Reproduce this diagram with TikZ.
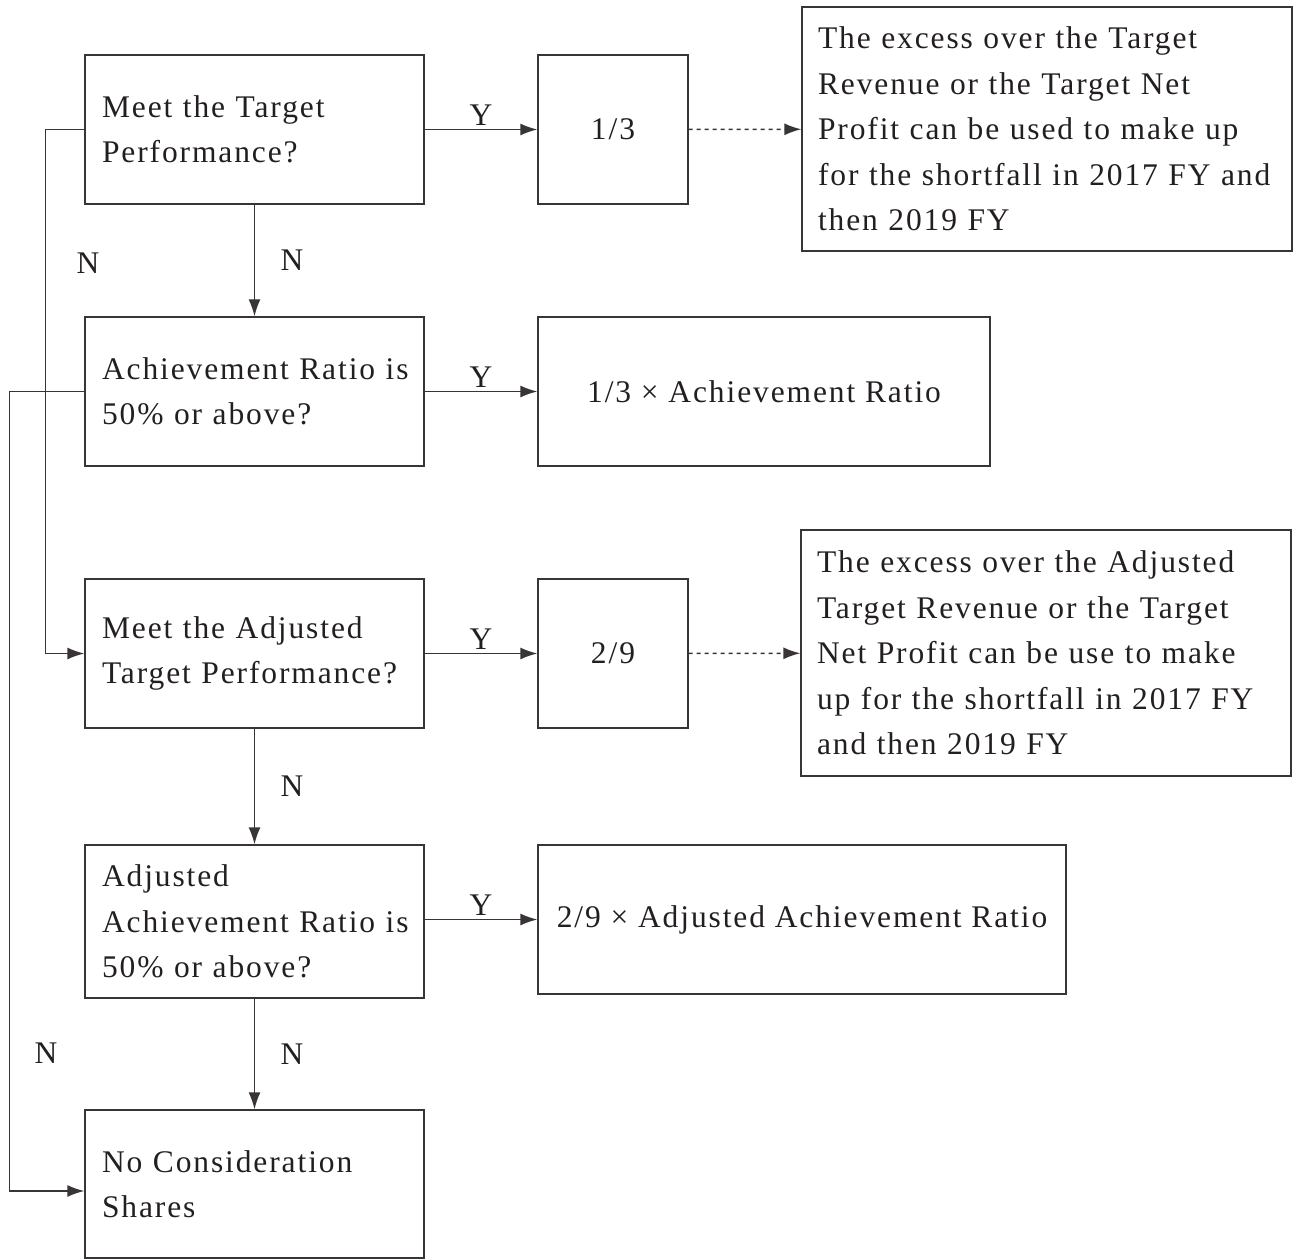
\documentclass[tikz,border=0pt]{standalone}
\usepackage{fontspec}
\newfontfamily\boxfont[LetterSpace=6]{Liberation Serif}
\usetikzlibrary{arrows.meta}
\definecolor{ink}{RGB}{35,31,32}
\begin{document}
\begin{tikzpicture}
            [x=1pt, y=-1pt, line width=1.4pt, draw=ink!90, text=ink,
             font=\boxfont\fontsize{31.5}{45.5}\selectfont,
             qbox/.style={draw, rectangle, minimum width=339pt, minimum height=149pt, text width=305pt, align=left, inner xsep=17pt},
             vbox/.style={draw, rectangle, minimum height=149pt, align=center},
             note/.style={draw, rectangle, minimum width=490pt, text width=458pt, align=left, inner xsep=16pt},
             arr/.style={-{Latex[length=17pt,width=12pt]}}]
            \useasboundingbox (0,0) rectangle (1302,1260);
            \node[qbox] (q1) at (254.5,129.5) {Meet the Target\\Performance?};
            \node[vbox, minimum width=150pt] (v1) at (613,129.5) {1/3};
            \node[note, minimum height=244pt] (e1) at (1047,129) {The excess over the Target\\Revenue or the Target Net\\Profit can be used to make up\\for the shortfall in 2017 FY and\\then 2019 FY};
            \node[qbox] (q2) at (254.5,391.5) {\mbox{Achievement Ratio is}\\50\% or above?};
            \node[vbox, minimum width=452pt] (v2) at (764,391.5) {1/3 × Achievement Ratio};
            \node[qbox] (q3) at (254.5,653.5) {Meet the Adjusted\\Target Performance?};
            \node[vbox, minimum width=150pt] (v3) at (613,653.5) {2/9};
            \node[note, minimum height=246pt] (e2) at (1046,653) {The excess over the Adjusted\\Target Revenue or the Target\\Net Profit can be use to make\\up for the shortfall in 2017 FY\\and then 2019 FY};
            \node[qbox, minimum height=153pt] (q4) at (254.5,921.5) {Adjusted\\\mbox{Achievement Ratio is}\\50\% or above?};
            \node[vbox, minimum width=528pt] (v4) at (802,919.5) {2/9 × Adjusted Achievement Ratio};
            \node[qbox, minimum height=148pt] (q5) at (254.5,1184) {No Consideration\\Shares};

            \draw[arr] (q1) -- node[above] {Y} (v1);
            \draw[arr, dashed, dash pattern=on 4pt off 4pt] (v1) -- (e1);
            \draw[arr] (q2) -- node[above] {Y} (v2);
            \draw[arr] (q3) -- node[above] {Y} (v3);
            \draw[arr, dashed, dash pattern=on 4pt off 4pt] (v3) -- (e2);
            \draw[arr] (q4.east |- v4) -- node[above] {Y} (v4);

            \draw[arr] (q1) -- node[right=22pt] {N} (q2);
            \draw[arr] (q3) -- node[right=22pt] {N} (q4);
            \draw[arr] (q4) -- node[right=22pt] {N} (q5);

            \draw[arr] (q1.west) -- ++(-39,0) |- (q3.west);
            \draw[arr] (q2.west) -- ++(-75,0) |- ([yshift=-7pt]q5.west);
            \node (n1) at (88,263) {N};
            \node (n2) at (46,1053) {N};
         \end{tikzpicture}
\end{document}
